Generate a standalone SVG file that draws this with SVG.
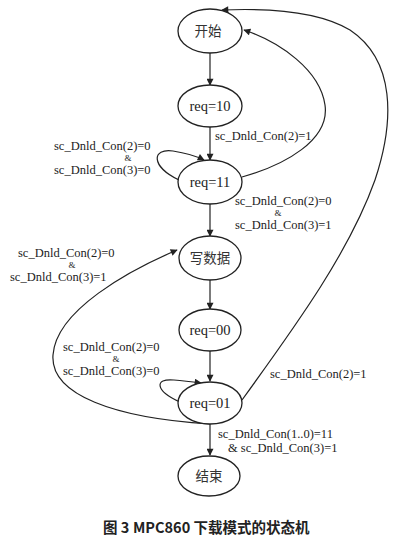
<svg xmlns="http://www.w3.org/2000/svg" width="400" height="540" viewBox="0 0 400 540">
<style>
.node ellipse{fill:#fff;stroke:#222;stroke-width:1.3}
.nt{font-family:"Liberation Serif","Noto Sans CJK SC",serif;font-size:14.5px;fill:#222;text-anchor:middle}
.ct{font-family:"Noto Sans CJK SC",sans-serif;font-size:13.5px;fill:#333;text-anchor:middle}
.lb{font-family:"Liberation Serif",serif;font-size:12.5px;fill:#222}
.amp{font-family:"Liberation Serif",serif;font-size:9px;fill:#222;text-anchor:middle}
.e{fill:none;stroke:#222;stroke-width:1.2;marker-end:url(#ah)}
.cap{font-family:"Noto Sans CJK SC",sans-serif;font-size:14.5px;font-weight:bold;fill:#222}
</style>
<defs>
<marker id="ah" viewBox="0 0 10 10" refX="9" refY="5" markerWidth="8" markerHeight="7" markerUnits="userSpaceOnUse" orient="auto">
<path d="M0,0 L10,5 L0,10 Z" fill="#222"/>
</marker>
</defs>
<rect width="400" height="540" fill="#fff"/>
<g id="connectors">
<line class="e" x1="210" y1="53" x2="210" y2="85"/>
<line class="e" x1="210" y1="127" x2="210" y2="160"/>
<line class="e" x1="210" y1="204" x2="210" y2="236"/>
<line class="e" x1="210" y1="279" x2="210" y2="309"/>
<line class="e" x1="210" y1="351" x2="210" y2="381"/>
<line class="e" x1="210" y1="424" x2="210" y2="455"/>
<path class="e" d="M242,177 C285,165 330,140 325,105 C320,70 280,42 244,30"/>
<path class="e" d="M242,400 C300,320 350,250 375,180 C395,120 395,60 350,30 C320,12 270,8 222,10"/>
<path class="e" d="M210,424 C115,418 50,395 53,355 C56,310 130,270 177,250"/>
<path class="e" d="M179,180 C150,166 152,148 173,151 C186,153 196,156 204,160"/>
<path class="e" d="M180,402 C155,391 154,378 174,380 C185,381 193,382 201,383"/>
</g>
<g id="start" class="node"><ellipse cx="210" cy="31" rx="32" ry="22"/><text class="ct" x="208" y="36">开始</text></g>
<g id="req10" class="node"><ellipse cx="210" cy="106" rx="32" ry="21"/><text class="nt" x="210" y="111">req=10</text></g>
<g id="req11" class="node"><ellipse cx="210" cy="182" rx="32" ry="22"/><text class="nt" x="210" y="187">req=11</text></g>
<g id="write" class="node"><ellipse cx="210" cy="258" rx="31" ry="22"/><text class="ct" x="210" y="263">写数据</text></g>
<g id="req00" class="node"><ellipse cx="210" cy="330" rx="31" ry="21"/><text class="nt" x="210" y="335">req=00</text></g>
<g id="req01" class="node"><ellipse cx="210" cy="403" rx="32" ry="21"/><text class="nt" x="210" y="408">req=01</text></g>
<g id="end" class="node"><ellipse cx="209" cy="476" rx="31" ry="20"/><text class="ct" x="209" y="481">结束</text></g>
<g id="labels">
<text class="lb" x="54" y="150">sc_Dnld_Con(2)=0</text>
<text class="amp" x="128" y="161">&amp;</text>
<text class="lb" x="54" y="174">sc_Dnld_Con(3)=0</text>
<text class="lb" x="215" y="140">sc_Dnld_Con(2)=1</text>
<text class="lb" x="235" y="205">sc_Dnld_Con(2)=0</text>
<text class="amp" x="278" y="216">&amp;</text>
<text class="lb" x="235" y="229">sc_Dnld_Con(3)=1</text>
<text class="lb" x="18" y="257">sc_Dnld_Con(2)=0</text>
<text class="amp" x="72" y="268">&amp;</text>
<text class="lb" x="10" y="281">sc_Dnld_Con(3)=1</text>
<text class="lb" x="63" y="351">sc_Dnld_Con(2)=0</text>
<text class="amp" x="116" y="362">&amp;</text>
<text class="lb" x="63" y="375">sc_Dnld_Con(3)=0</text>
<text class="lb" x="270" y="378">sc_Dnld_Con(2)=1</text>
<text class="lb" x="218" y="438">sc_Dnld_Con(1..0)=11</text>
<text class="lb" x="228" y="452">&amp; sc_Dnld_Con(3)=1</text>
</g>
<text class="cap" x="103" y="533">图 3<tspan x="133">MPC860 下载模式的状态机</tspan></text>
</svg>
